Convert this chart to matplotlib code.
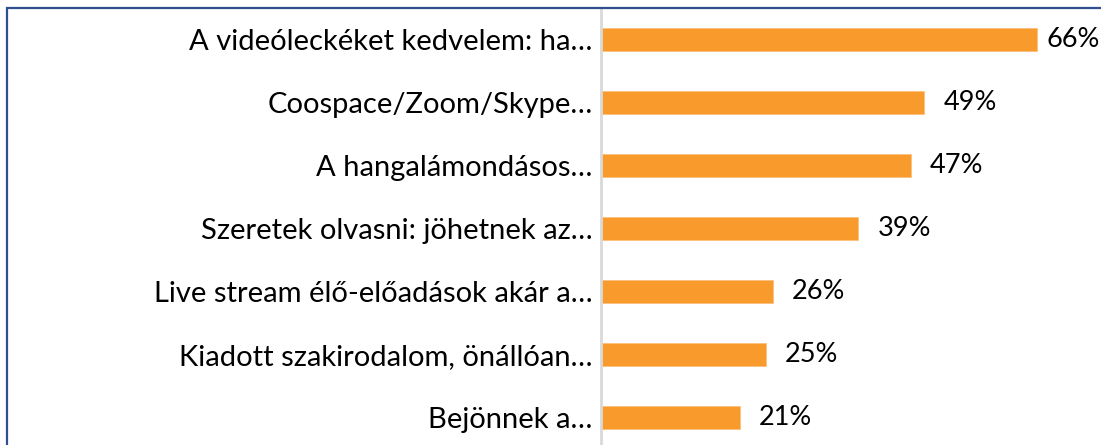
import matplotlib
matplotlib.use("Agg")
import matplotlib.pyplot as plt
from matplotlib.patches import Rectangle

categories = [
    "A videóleckéket kedvelem: ha…",
    "Coospace/Zoom/Skype…",
    "A hangalámondásos…",
    "Szeretek olvasni: jöhetnek az…",
    "Live stream élő-előadások akár a…",
    "Kiadott szakirodalom, önállóan…",
    "Bejönnek a…",
]
values = [66, 49, 47, 39, 26, 25, 21]
value_labels = ["66%", "49%", "47%", "39%", "26%", "25%", "21%"]

plt.rcParams['font.family'] = ['Lato', 'DejaVu Sans']

W, H = 1101, 445
fig = plt.figure(figsize=(W / 100, H / 100), dpi=100)
fig.patch.set_facecolor("white")

x0 = 601
px_per = 6.6
xmax_val = 75
ax_w = px_per * xmax_val
top = 8
row = 63
n = len(categories)
ax_h = row * n
ax = fig.add_axes([x0 / W, 1 - (top + ax_h) / H, ax_w / W, ax_h / H])

ypos = list(range(n))
ax.barh(ypos, values, height=0.35, color="#F89A2C", edgecolor="#FBC07A", linewidth=0.6)
ax.set_xlim(0, xmax_val)
ax.set_ylim(n - 0.5, -0.5)

max_start = (W - 55 - x0) / px_per
for y, v, lab in zip(ypos, values, value_labels):
    xt = min(v + 19 / px_per, max_start)
    ax.text(xt, y, lab, va="center", ha="left", fontsize=19.5, color="#000000", clip_on=False)

ax.set_yticks(ypos)
ax.set_yticklabels(categories, fontsize=21, color="#000000")
ax.tick_params(axis="y", length=0, pad=6)
ax.set_xticks([])
for s in ["top", "right", "bottom"]:
    ax.spines[s].set_visible(False)
ax.spines["left"].set_color("#D9D9D9")
ax.spines["left"].set_linewidth(2)

border = Rectangle((7 / W, -0.1), 1.2, 1 - 8 / H + 0.1, transform=fig.transFigure,
                   fill=False, edgecolor="#2F4F8F", linewidth=1.6, clip_on=False)
fig.patches.append(border)

fig.savefig("out.png", dpi=100)
